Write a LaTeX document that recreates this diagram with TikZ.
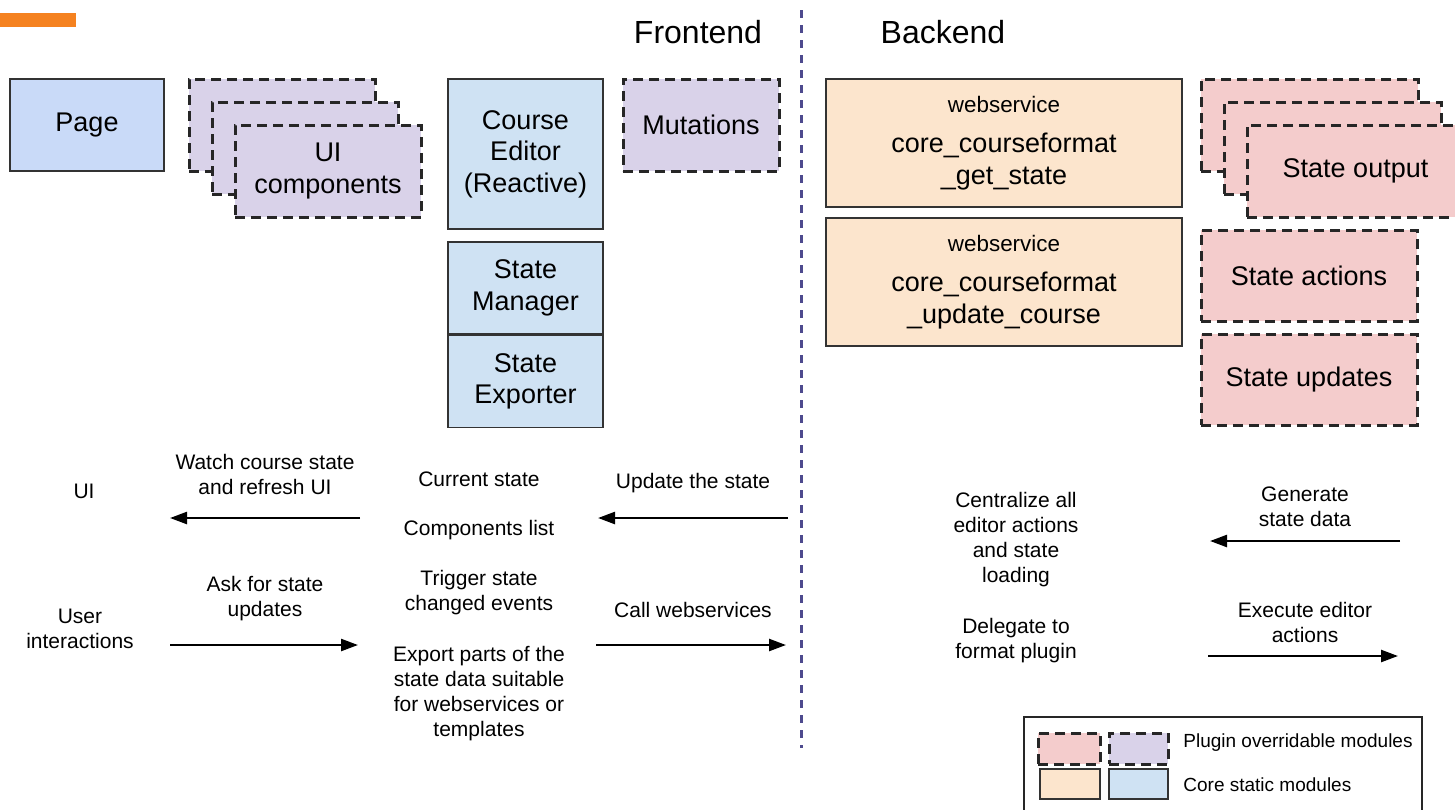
\documentclass[tikz,border=0pt]{standalone}
\usepackage{fontspec}
\setmainfont{Liberation Sans}
\usetikzlibrary{arrows.meta, positioning}
\definecolor{coreblue}{HTML}{CFE2F3}
\definecolor{pageblue}{HTML}{C9DAF8}
\definecolor{plugpurple}{HTML}{D9D2E9}
\definecolor{plugpink}{HTML}{F4CCCC}
\definecolor{coreorange}{HTML}{FCE5CD}
\definecolor{barorange}{HTML}{F58220}
\definecolor{dividerpurple}{HTML}{4E4A8E}
\newcommand*{\headfont}{\fontsize{16}{18}\selectfont}
\newcommand*{\boxfont}{\fontsize{13.5}{15.75}\selectfont}
\newcommand*{\wsfont}{\fontsize{11.2}{13}\selectfont}
\newcommand*{\lblfont}{\fontsize{10.5}{12.5}\selectfont}
\newcommand*{\keyfont}{\fontsize{9.5}{11}\selectfont}

\begin{document}
\begin{tikzpicture}[
        x=0.5pt, y=-0.5pt, >={Triangle[length=8.5pt,width=6pt]},
        core/.style={draw=black!80, line width=0.75pt, inner sep=0pt, align=center, font=\boxfont},
        plugin/.style={draw=black!85, line width=1.5pt, dash pattern=on 5pt off 3pt, inner sep=0pt, align=center, font=\boxfont},
        lbl/.style={align=center, font=\lblfont, inner sep=1pt},
        flow/.style={->, line width=1.2pt},
        ]
        \useasboundingbox (0,0) rectangle (1455,809);
        \fill[barorange] (0,13) rectangle (76,27);

        % headings and divider
        \node[font=\headfont] (front) at (698,32) {Frontend};
        \node[font=\headfont] (back)  at (943,32) {Backend};
        \draw[dividerpurple, line width=1.5pt, dash pattern=on 4pt off 3.5pt] (801,10) -- (801,748);

        % frontend modules
        \node[core, fill=pageblue, minimum width=77pt, minimum height=46pt] (page) at (87,125) {Page};
        \node[plugin, fill=plugpurple, minimum width=93pt, minimum height=46pt] (ui_a) at (282,125) {};
        \node[plugin, fill=plugpurple, minimum width=93pt, minimum height=46pt] (ui_b) at (305,148) {};
        \node[plugin, fill=plugpurple, minimum width=93pt, minimum height=46pt] (ui_c) at (328,171) {UI\\components};
        \node[core, fill=coreblue, minimum width=77.5pt, minimum height=75pt] (editor) at (525.5,154) {Course\\Editor\\(Reactive)};
        \node[plugin, fill=plugpurple, minimum width=78pt, minimum height=46pt] (mutations) at (701,125) {Mutations};
        \node[core, fill=coreblue, minimum width=77.5pt, minimum height=46pt] (manager) at (525.5,288) {State\\Manager};
        \node[core, fill=coreblue, minimum width=77.5pt, minimum height=46pt, below=0pt of manager] (exporter) {State\\Exporter};

        % backend modules
        \node[core, fill=coreorange, minimum width=178pt, minimum height=64pt, font=\fontsize{13.5}{16}\selectfont] (ws_get) at (1004,143)
            {{\wsfont webservice}\\[4pt]core\_courseformat\\\_get\_state};
        \node[core, fill=coreorange, minimum width=178pt, minimum height=64pt, font=\fontsize{13.5}{16}\selectfont] (ws_update) at (1004,282)
            {{\wsfont webservice}\\[4pt]core\_courseformat\\\_update\_course};
        \node[plugin, fill=plugpink, minimum width=108.5pt, minimum height=46pt] (out_a) at (1309.5,125) {};
        \node[plugin, fill=plugpink, minimum width=108.5pt, minimum height=46pt] (out_b) at (1332.5,148) {};
        \node[plugin, fill=plugpink, minimum width=108.5pt, minimum height=46pt] (out_c) at (1355.5,171) {State output};
        \node[plugin, fill=plugpink, minimum width=108pt, minimum height=45.5pt] (actions) at (1309,275.5) {State actions};
        \node[plugin, fill=plugpink, minimum width=108pt, minimum height=45.5pt] (updates) at (1309,379.5) {State updates};

        % flow labels
        \node[lbl] (ui)       at (84,491)   {UI};
        \node[lbl] (watch)    at (265,474)  {Watch course state\\and refresh UI};
        \node[lbl] (user)     at (80,629)   {User\\interactions};
        \node[lbl] (ask)      at (265,599)  {Ask for state\\updates};
        \node[lbl] (current)  at (479,479)  {Current state};
        \node[lbl] (complist) at (479,530)  {Components list};
        \node[lbl] (trigger)  at (479,593)  {Trigger state\\changed events};
        \node[lbl] (export)   at (479,694)  {Export parts of the\\state data suitable\\for webservices or\\templates};
        \node[lbl] (update)   at (693,483)  {Update the state};
        \node[lbl] (call)     at (693,610)  {Call webservices};
        \node[lbl] (central)  at (1016,540) {Centralize all\\editor actions\\and state\\loading};
        \node[lbl] (delegate) at (1016,641) {Delegate to\\format plugin};
        \node[lbl] (generate) at (1305,507) {Generate\\state data};
        \node[lbl] (execute)  at (1305,622) {Execute editor\\actions};

        % arrows
        \coordinate (watch_s) at (360,518);  \coordinate (watch_e) at (170,518);
        \coordinate (ask_s)   at (170,645);  \coordinate (ask_e)   at (358,645);
        \coordinate (upd_s)   at (788,518);  \coordinate (upd_e)   at (598,518);
        \coordinate (call_s)  at (596,645);  \coordinate (call_e)  at (786,645);
        \coordinate (gen_s)   at (1400,541); \coordinate (gen_e)   at (1210,541);
        \coordinate (exe_s)   at (1208,656); \coordinate (exe_e)   at (1398,656);
        \draw[flow] (watch_s) -- (watch_e);
        \draw[flow] (ask_s) -- (ask_e);
        \draw[flow] (upd_s) -- (upd_e);
        \draw[flow] (call_s) -- (call_e);
        \draw[flow] (gen_s) -- (gen_e);
        \draw[flow] (exe_s) -- (exe_e);

        % legend
        \draw[black!85, line width=0.75pt] (1024,717) rectangle (1422,830);
        \node[plugin, fill=plugpink, minimum width=31pt, minimum height=15.5pt] (key_pink) at (1069,748.5) {};
        \node[plugin, fill=plugpurple, minimum width=29.5pt, minimum height=15.5pt] (key_purple) at (1138.5,748.5) {};
        \node[core, fill=coreorange, minimum width=30pt, minimum height=15pt] (key_orange) at (1070,784) {};
        \node[core, fill=coreblue, minimum width=29.5pt, minimum height=15pt] (key_blue) at (1138.5,784) {};
        \node[anchor=west, font=\keyfont, inner sep=0pt] (key_plugin) at (1183,743) {Plugin overridable modules};
        \node[anchor=west, font=\keyfont, inner sep=0pt] (key_core) at (1183,785) {Core static modules};
\end{tikzpicture}
\end{document}
